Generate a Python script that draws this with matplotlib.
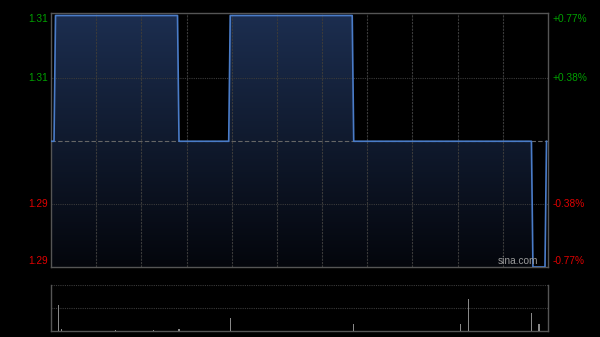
import numpy as np
import matplotlib.pyplot as plt

plt.rcParams['font.family'] = ['Liberation Sans', 'DejaVu Sans']

# price data (minute index, price)
minutes = [0, 2, 3, 84, 85, 118, 119, 200, 201, 319, 320, 328, 329]
prices = [1.30, 1.30, 1.31, 1.31, 1.30, 1.30, 1.31, 1.31, 1.30, 1.30, 1.29, 1.29, 1.30]
prev_close = 1.30

# volume bars (minute index, relative height)
vol_minutes = [5, 7, 43, 68, 85, 119, 201, 272, 277, 319, 324]
vol_values = [0.57, 0.05, 0.03, 0.03, 0.04, 0.28, 0.15, 0.15, 0.70, 0.39, 0.15]

left_labels = ["1.31", "1.31", "1.29", "1.29"]
right_labels = ["+0.77%", "+0.38%", "-0.38%", "-0.77%"]
label_levels = [1.31, 1.305, 1.295, 1.29]

n_min = 330
bg = "black"
grid_col = "#3a3a3a"

fig = plt.figure(figsize=(6, 3.37), dpi=100, facecolor=bg)
W, H = 600, 337
ax = fig.add_axes([51 / W, 1 - 267 / H, 497 / W, 254 / H], facecolor=bg)
axv = fig.add_axes([51 / W, 1 - 331 / H, 497 / W, 46 / H], facecolor=bg)

ymin, ymax = 1.29, 1.3102
ax.set_xlim(0, n_min)
ax.set_ylim(ymin, ymax)

# gradient fill under price line
grad = np.linspace(0, 1, 256).reshape(-1, 1)
top_c = np.array([28, 46, 80]) / 255
bot_c = np.array([4, 6, 12]) / 255
img = top_c * grad + bot_c * (1 - grad)
im = ax.imshow(img.reshape(256, 1, 3), extent=[0, n_min, ymin, ymax],
               origin="lower", aspect="auto", zorder=1)
poly = ax.fill_between(minutes, prices, ymin, color="none")
im.set_clip_path(poly.get_paths()[0], transform=ax.transData)

ax.plot(minutes, prices, color="#4a7cc8", lw=1.2, zorder=3)
ax.axhline(prev_close, color="#666666", lw=0.8, ls=(0, (4, 2)), zorder=2)

# grid
for i in range(1, 11):
    ax.axvline(n_min * i / 11, color=grid_col, lw=0.8, ls=(0, (2, 1)), zorder=2)
for lv in [1.305, 1.295]:
    ax.axhline(lv, color=grid_col, lw=0.8, ls=(0, (1, 1)), zorder=2)

ax.set_xticks([])
ax.set_yticks([])
for s in ax.spines.values():
    s.set_color("#555555")
    s.set_linewidth(1)

for i, (lv, ll, rl) in enumerate(zip(label_levels, left_labels, right_labels)):
    col = "#00a000" if lv > prev_close else "#e00000"
    va = "top" if i == 0 else ("bottom" if i == 3 else "center")
    yv = lv if i in (1, 2) else (ymax if i == 0 else ymin)
    off = -1 if i == 0 else (1 if i == 3 else 0)
    ax.annotate(ll, (0, yv), xytext=(-2.5, off), textcoords="offset points",
                ha="right", va=va, color=col, fontsize=7.3, xycoords=("axes fraction", "data"))
    ax.annotate(rl, (1, yv), xytext=(3, off), textcoords="offset points",
                ha="left", va=va, color=col, fontsize=7.3, xycoords=("axes fraction", "data"))

ax.text(0.98, 0.005, "sina.com", transform=ax.transAxes, ha="right", va="bottom",
        color="#9a9a9a", fontsize=7.3, zorder=4)

# volume panel
axv.set_xlim(0, n_min)
axv.set_ylim(0, 1)
axv.bar(vol_minutes, vol_values, width=0.8, color="#888888", zorder=3)
for lv in [0.5, 1.0]:
    axv.axhline(lv, color=grid_col, lw=0.8, ls=(0, (1, 1)), zorder=2)
axv.set_xticks([])
axv.set_yticks([])
for k, s in axv.spines.items():
    s.set_color("#555555")
    s.set_linewidth(1)
axv.spines["top"].set_visible(False)

fig.savefig("out.png", facecolor=bg)
